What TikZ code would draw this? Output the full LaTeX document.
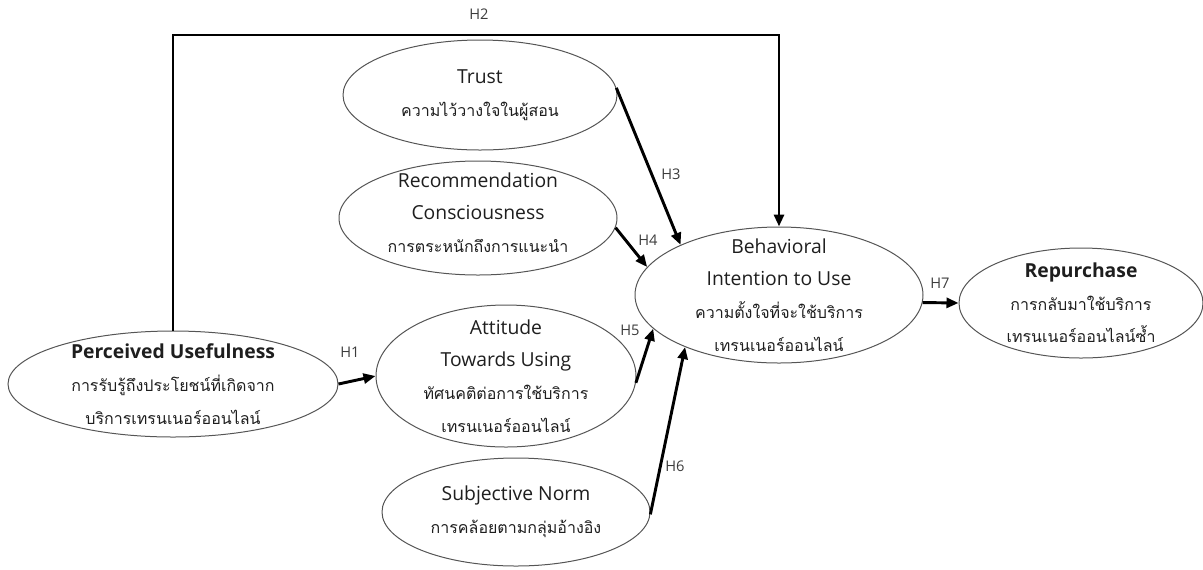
\documentclass[tikz,border=0pt]{standalone}
\usepackage{fontspec}
\setmainfont{Open Sans}
\newfontfamily\thaifont[Script=Thai]{Loma}
\usetikzlibrary{shapes.geometric,arrows.meta}

\newcommand{\thailine}[1]{{\thaifont\fontsize{12}{24.5}\selectfont #1}}

\tikzset{every picture/.style={line width=0.75pt}}
\tikzset{
  oval/.style={draw={rgb,255:red,85;green,85;blue,85},ellipse,inner sep=0pt},
  words/.style={align=center,text={rgb,255:red,30;green,30;blue,30},font=\fontsize{14.5}{24.5}\selectfont},
  hyp/.style={line width=2.2pt,-{Triangle[length=9pt,width=7.5pt]}},
  hlabel/.style={text={rgb,255:red,60;green,60;blue,60},font=\fontsize{11}{12}\selectfont},
}

\begin{document}
\begin{tikzpicture}[x=0.75pt,y=0.75pt,yscale=-1,xscale=1]
\useasboundingbox (0,0) rectangle (1203,569);

%Shape: Ellipse [id:pu]
\node[oval,minimum width=247.5pt,minimum height=79.5pt] (pu) at (173,384) {};
%Shape: Ellipse [id:trust]
\node[oval,minimum width=205.5pt,minimum height=82.5pt] (trust) at (480,95) {};
%Shape: Ellipse [id:rec]
\node[oval,minimum width=208.5pt,minimum height=85.5pt] (rec) at (478,218) {};
%Shape: Ellipse [id:att]
\node[oval,minimum width=195pt,minimum height=106.5pt] (att) at (506,376) {};
%Shape: Ellipse [id:sn]
\node[oval,minimum width=201pt,minimum height=81pt] (sn) at (516,512) {};
%Shape: Ellipse [id:bi]
\node[oval,minimum width=216pt,minimum height=102pt] (bi) at (779,295) {};
%Shape: Ellipse [id:rep]
\node[oval,minimum width=183pt,minimum height=82.5pt] (rep) at (1081,303) {};

% Text Node
\node[words] (pu-t) at (pu) {\textbf{Perceived Usefulness}\\\thailine{การรับรู้ถึงประโยชน์ที่เกิดจาก}\\\thailine{บริการเทรนเนอร์ออนไลน์}};
% Text Node
\node[words] (trust-t) at (trust) {Trust\\\thailine{ความไว้วางใจในผู้สอน}};
% Text Node
\node[words] (rec-t) at ([yshift=-4]rec) {Recommendation\\Consciousness\\\thailine{การตระหนักถึงการแนะนำ}};
% Text Node
\node[words] (att-t) at (att) {Attitude\\Towards Using\\\thailine{ทัศนคติต่อการใช้บริการ}\\\thailine{เทรนเนอร์ออนไลน์}};
% Text Node
\node[words] (sn-t) at (sn) {Subjective Norm\\\thailine{การคล้อยตามกลุ่มอ้างอิง}};
% Text Node
\node[words] (bi-t) at (bi) {Behavioral\\Intention to Use\\\thailine{ความตั้งใจที่จะใช้บริการ}\\\thailine{เทรนเนอร์ออนไลน์}};
% Text Node
\node[words] (rep-t) at (rep) {\textbf{Repurchase}\\\thailine{การกลับมาใช้บริการ}\\\thailine{เทรนเนอร์ออนไลน์ซ้ำ}};

%Straight Lines [id:h2]
\coordinate (h2top) at (173,35);
\draw[hyp] (pu.north) -- (h2top) -| (bi.north);
%Straight Lines [id:h1]
\draw[hyp] (pu.east) -- (att.west);
%Straight Lines [id:h3]
\draw[hyp] (trust.3) -- (bi.153);
%Straight Lines [id:h4]
\draw[hyp] (rec.-4) -- (bi.168);
%Straight Lines [id:h5]
\draw[hyp] (att.-3) -- (bi.195);
%Straight Lines [id:h6]
\draw[hyp] (sn.-1) -- (bi.209);
%Straight Lines [id:h7]
\draw[hyp] (bi.-3) -- (rep.west);

% Text Node
\node[hlabel] (l2) at (479,14) {H2};
% Text Node
\node[hlabel] (l1) at (350,352) {H1};
% Text Node
\node[hlabel] (l3) at (671,174) {H3};
% Text Node
\node[hlabel] (l4) at (648,240) {H4};
% Text Node
\node[hlabel] (l5) at (630,330) {H5};
% Text Node
\node[hlabel] (l6) at (675,466) {H6};
% Text Node
\node[hlabel] (l7) at (940,283) {H7};

\end{tikzpicture}
\end{document}
